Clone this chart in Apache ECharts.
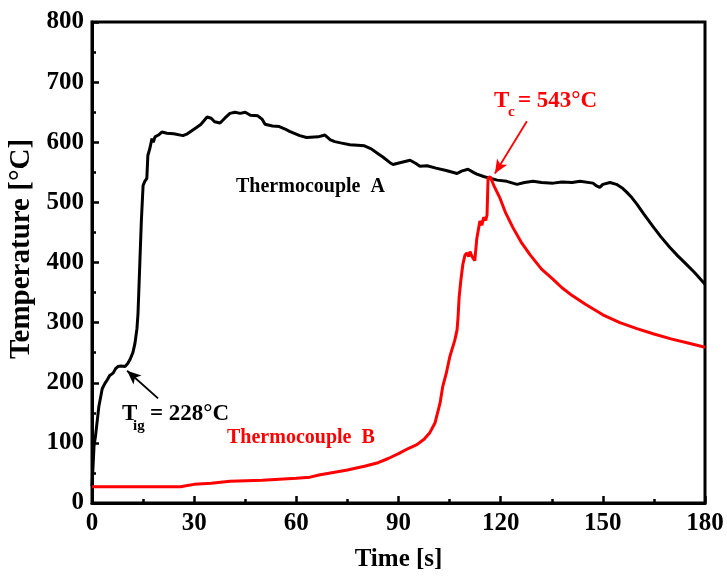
<!doctype html>
<html>

<head>
    <meta charset="utf-8">
    <title>Thermocouple temperature</title>
    <script type="text/javascript" src="https://cdn.jsdelivr.net/npm/echarts@6/dist/echarts.min.js"></script>
</head>

<body style="margin:0;padding:0">
    <div id="tb" style="width:727px;height:577px"></div>
    <script>
        // Thermocouple A (black)
        var timeA = [0, 0.3, 0.6, 1.0, 2.0, 3.0, 3.8, 4.5, 5.2, 6.2, 7.0, 7.6, 8.5, 9.7, 10.5, 11.2, 12.0, 12.6, 13.2, 13.5,
            13.8, 14.1, 14.5, 15.0, 15.5, 16.1, 16.4, 17.0, 17.6, 18.0, 18.5, 19.5, 20.5, 22, 24, 26.7, 28, 30.8, 32, 33.8,
            35, 36, 37.6, 39, 40.5, 42, 43.5, 45, 46.5, 48.7, 50, 50.8, 53, 55, 56.7, 58, 61, 63, 66.4, 68.4,
            70, 71.3, 73, 75.7, 78, 80, 82, 84, 85.5, 87.5, 88.4, 90.4, 93.4, 95, 96.3, 98.4, 101, 104, 107.2, 108.5,
            110.4, 112, 113, 115, 116.9, 119, 121.8, 124.8, 127, 129.5, 132, 135.4, 138, 141, 143.3, 147.1, 148, 149.1, 150, 152.1,
            154, 155.9, 157, 158.5, 160, 162, 164.7, 167, 169.7, 172, 174.7, 177, 180];
        var tempA = [28, 60, 95, 110, 160, 190, 199, 205, 212, 216, 224, 227, 228, 227, 232, 239, 250, 265, 290, 314,
            360, 408, 470, 528, 535, 540, 578, 590, 606, 600, 609, 612, 617, 615, 614, 611, 614, 625, 630, 642,
            640, 634, 632, 640, 648, 650, 648, 650, 645, 644, 638, 630, 627, 626, 622, 618, 611, 608, 609, 612,
            604, 601, 599, 596, 595, 594, 589, 581, 575, 566, 563, 566, 570, 565, 560, 561, 557, 553, 548, 552,
            555, 550, 547, 543, 540, 537, 535, 530, 533, 535, 533, 532, 534, 533, 535, 532, 528, 525, 530, 533,
            530, 523, 517, 508, 497, 481, 460, 443, 425, 411, 396, 383, 364];
        // Thermocouple B (red)
        var timeB = [0, 10, 20, 26, 28, 30, 35, 40.5, 50, 60, 64, 67, 70, 75, 80, 84, 87, 90, 93, 95.4,
            97.5, 99.2, 100.7, 102.2, 103, 104, 105.1, 106.5, 107.2, 107.5, 107.8, 108.3, 108.9, 109.5, 110.1, 110.6, 111, 111.6, 112.4, 113,
            113.9, 114.5, 115, 115.6, 116, 116.3, 116.9, 118, 119.8, 121.5, 123.6, 126, 128.6, 132, 135.4, 138, 141, 145, 150, 155,
            160, 165, 170, 175, 180];
        var tempB = [27, 27, 27, 27, 29, 31, 33, 36, 38, 41, 43, 47, 50, 55, 61, 67, 74, 82, 91, 97,
            106, 117, 133, 166, 194, 215, 244, 270, 288, 310, 342, 370, 397, 412, 416, 410, 418, 410, 403, 440,
            469, 462, 475, 470, 479, 540, 543, 528, 507, 482, 458, 434, 413, 389, 372, 358, 345, 330, 313, 300,
            290, 281, 273, 266, 259];
        // arrows: [from, to] in data units
        var arrowIg = [[19.4, 174], [10.3, 220]];
        var arrowC = [[127.7, 635], [118.3, 548]];

        var font = "'Times New Roman', 'Liberation Serif', serif";
        var pairs = function (xs, ys) {
            return xs.map(function (x, i) { return [x, ys[i]]; });
        };

        var bt = document.getElementById('tb');
        var chart = echarts.init(bt);

        var axisCommon = {
            type: 'value',
            axisLine: { show: true, lineStyle: { color: '#000', width: 3 } },
            axisTick: { show: true, inside: true, length: 7, lineStyle: { color: '#000', width: 2.5 } },
            minorTick: { show: true, splitNumber: 2, length: 4, lineStyle: { color: '#000', width: 2.5 } },
            splitLine: { show: false },
            axisLabel: { color: '#000', fontFamily: font, fontWeight: 'bold', fontSize: 25, margin: 8 },
            nameTextStyle: { color: '#000', fontFamily: font, fontWeight: 'bold' }
        };

        var txt = function (text, x, y, size, color) {
            return {
                type: 'text', x: x, y: y,
                style: { text: text, font: 'bold ' + size + 'px ' + font, fill: color, verticalAlign: 'middle' }
            };
        };

        chart.setOption({
            animation: false,
            grid: { left: 92, right: 22, top: 22, bottom: 69, show: true, borderColor: '#000', borderWidth: 3 },
            xAxis: Object.assign({}, axisCommon, {
                min: 0, max: 180, interval: 30,
                name: 'Time [s]', nameLocation: 'middle', nameGap: 44,
                nameTextStyle: Object.assign({}, axisCommon.nameTextStyle, { fontSize: 25 })
            }),
            yAxis: Object.assign({}, axisCommon, {
                min: 0, max: 800, interval: 100
            }),
            series: [{
                name: 'Thermocouple A',
                type: 'line',
                data: pairs(timeA, tempA),
                showSymbol: false,
                lineStyle: { color: '#000', width: 3 },
                itemStyle: { color: '#000' },
                markLine: {
                    silent: true,
                    symbol: ['none', 'arrow'],
                    symbolSize: [9, 14],
                    label: { show: false },
                    lineStyle: { color: '#000', width: 1.8, type: 'solid' },
                    data: [[{ coord: arrowIg[0] }, { coord: arrowIg[1] }]]
                }
            }, {
                name: 'Thermocouple B',
                type: 'line',
                data: pairs(timeB, tempB),
                showSymbol: false,
                lineStyle: { color: '#ff0000', width: 3 },
                itemStyle: { color: '#ff0000' },
                markLine: {
                    silent: true,
                    symbol: ['none', 'arrow'],
                    symbolSize: [9, 14],
                    label: { show: false },
                    lineStyle: { color: '#ff0000', width: 1.8, type: 'solid' },
                    data: [[{ coord: arrowC[0] }, { coord: arrowC[1] }]]
                }
            }],
            graphic: [
                {
                    // y axis title
                    type: 'text', x: 22, y: 249, rotation: Math.PI / 2,
                    style: { text: 'Temperature [°C]', font: 'bold 29px ' + font, fill: '#000', align: 'center', verticalAlign: 'middle' }
                },
                txt('Thermocouple  A', 236, 187, 20, '#000'),
                txt('Thermocouple  B', 227, 438, 20, '#ff0000'),
                txt('T', 122, 414, 23, '#000'),
                txt('ig', 133, 426, 15, '#000'),
                txt('= 228°C', 150, 414, 23, '#000'),
                txt('T', 494, 101, 23, '#ff0000'),
                txt('c', 508, 112, 15, '#ff0000'),
                txt('= 543°C', 518, 101, 23, '#ff0000')
            ]
        });
    </script>
</body>

</html>
